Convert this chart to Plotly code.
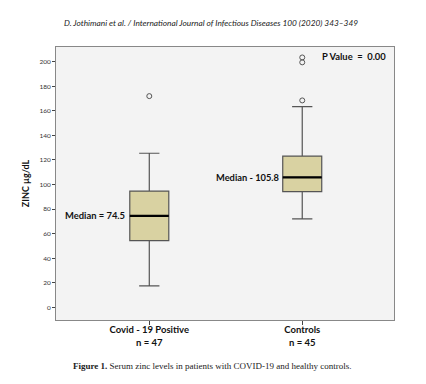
import plotly.graph_objects as go

# ---- data ----
groups = ["Covid - 19 Positive", "Controls"]
group_n = [47, 45]
q1_vals = [54.3, 94.2]
median_vals = [74.5, 105.8]
q3_vals = [94.7, 123.2]
lower_fence = [17.5, 72.0]
upper_fence = [125.5, 163.5]
outliers = [[172.0], [168.5, 199.5, 203.5]]
positions = [0, 1]
y_ticks = [0, 20, 40, 60, 80, 100, 120, 140, 160, 180, 200]

box_w = 0.255
fill = "#d9d2a2"
edge = "#555555"

OFF = 8  # page body margin
L, R, T, B = 56, 32, 47, 64
W, H = 426, 384
PW, PH = W - L - R, H - T - B


def px_x(px):
    return (px - L) / PW


def px_y(py):
    return 1 - (py - T) / PH


fig = go.Figure()
for i, g in enumerate(groups):
    fig.add_trace(go.Box(
        x=[positions[i]], q1=[q1_vals[i]], median=[median_vals[i]], q3=[q3_vals[i]],
        lowerfence=[lower_fence[i]], upperfence=[upper_fence[i]],
        width=box_w, whiskerwidth=0.52, fillcolor=fill,
        line=dict(color=edge, width=1.2), boxpoints=False, showlegend=False,
        hoverinfo="skip"))
    # thick black median line
    fig.add_trace(go.Scatter(
        x=[positions[i] - box_w / 2, positions[i] + box_w / 2],
        y=[median_vals[i], median_vals[i]], mode="lines",
        line=dict(color="black", width=2.2), showlegend=False, hoverinfo="skip"))
    fig.add_trace(go.Scatter(
        x=[positions[i]] * len(outliers[i]), y=outliers[i], mode="markers",
        marker=dict(symbol="circle-open", size=5, color="#555555", line=dict(width=1)),
        showlegend=False, hoverinfo="skip"))

ticktext = [f"<b>{g}</b><br><b>n = {n}</b>" for g, n in zip(groups, group_n)]

fig.update_layout(
    width=W - OFF, height=H - OFF,
    margin=dict(l=L - OFF, r=R, t=T - OFF, b=B),
    paper_bgcolor="white", plot_bgcolor="#f3f3f3",
    font=dict(family="Lato", color="#111111"),
    xaxis=dict(range=[-0.61, 1.6], tickvals=positions, ticktext=ticktext,
               showgrid=False, zeroline=False, showline=True, linecolor="#888888",
               linewidth=1, mirror=True, ticks="outside", ticklen=4, tickcolor="#444444",
               ticklabelstandoff=-3,
               tickfont=dict(size=9.5, family="Lato")),
    yaxis=dict(range=[-10.3, 212], tickvals=y_ticks, showgrid=False, zeroline=False,
               showline=True, linecolor="#888888", linewidth=1, mirror=True,
               ticks="outside", ticklen=3, tickcolor="#444444",
               tickfont=dict(size=6.5, family="Lato", color="#333333"),
               title=dict(text="<b>ZINC µg/dL</b>", font=dict(size=9, family="Lato"), standoff=8)),
)

fig.add_annotation(x=positions[0] - box_w / 2, y=median_vals[0], xref="x", yref="y",
                   xanchor="right", text="<b>Median = 74.5</b>", showarrow=False,
                   font=dict(size=9.4, family="Lato"), xshift=-3)
fig.add_annotation(x=positions[1] - box_w / 2, y=median_vals[1], xref="x", yref="y",
                   xanchor="right", text="<b>Median - 105.8</b>", showarrow=False,
                   font=dict(size=9.3, family="Lato"), xshift=-1)
fig.add_annotation(x=px_x(388), y=px_y(57), xref="paper", yref="paper",
                   xanchor="right", yanchor="middle",
                   text="<b>P Value  =  0.00</b>", showarrow=False,
                   font=dict(size=9.4, family="Lato"))
fig.add_annotation(x=px_x(62), y=px_y(23), xref="paper", yref="paper",
                   xanchor="left", yanchor="middle",
                   text="<i>D. Jothimani et al. / International Journal of Infectious Diseases 100 (2020) 343–349</i>",
                   showarrow=False, font=dict(size=8.3, family="Lato", color="#222222"))
fig.add_annotation(x=px_x(71), y=px_y(366), xref="paper", yref="paper",
                   xanchor="left", yanchor="middle",
                   text="<b>Figure 1.</b> Serum zinc levels in patients with COVID-19 and healthy controls.",
                   showarrow=False, font=dict(size=9.0, family="Liberation Serif", color="#222222"))

fig.write_html("out.html")
